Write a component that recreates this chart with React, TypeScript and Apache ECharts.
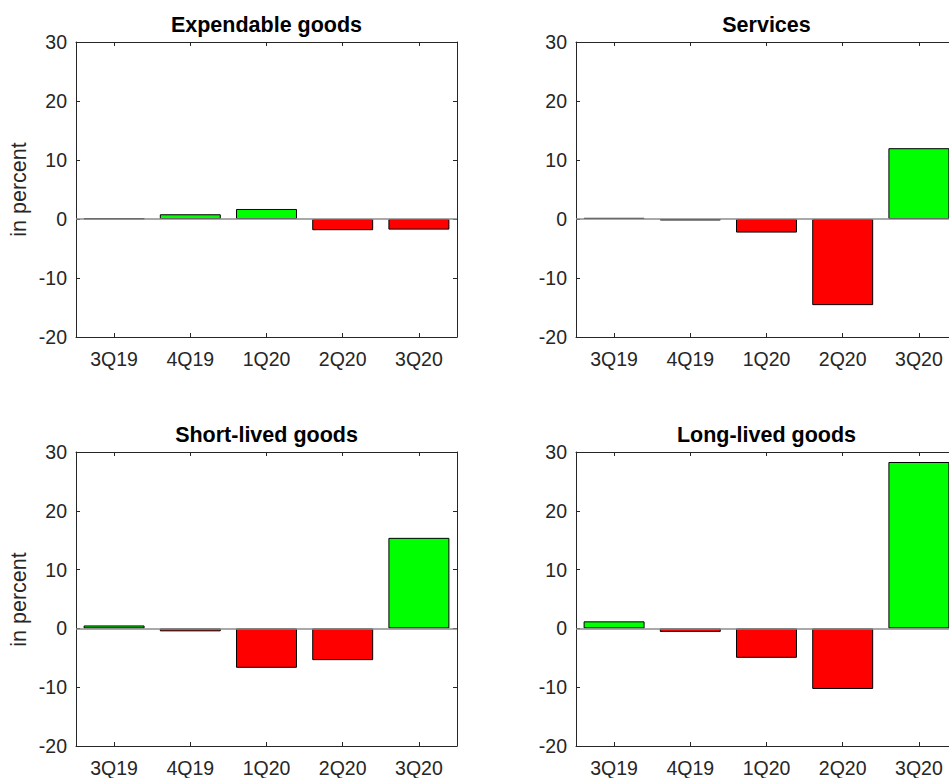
import React, { useEffect, useRef } from "react";
import * as echarts from "echarts";

const categories = ["3Q19", "4Q19", "1Q20", "2Q20", "3Q20"];
const panelTitles = ["Expendable goods", "Services", "Short-lived goods", "Long-lived goods"];
const expendable = [0.1, 0.8, 1.7, -1.9, -1.8];
const services = [0.2, -0.25, -2.3, -14.6, 12.0];
const shortLived = [0.5, -0.5, -6.7, -5.4, 15.4];
const longLived = [1.2, -0.6, -5.0, -10.3, 28.3];
const yTicks = { min: -20, max: 30, interval: 10 };
const yLabel = "in percent";

const FONT = "'Liberation Sans', Arial, Helvetica, sans-serif";
const AX = "#262626";

export default function App() {
  const ref = useRef<HTMLDivElement>(null);
  useEffect(() => {
    if (!ref.current) return;
    const chart = echarts.init(ref.current, undefined, { renderer: "svg" });
    const allData = [expendable, services, shortLived, longLived];
    const grids = [
      { left: 76, top: 42, width: 381, height: 295 },
      { left: 576, top: 42, width: 381, height: 295 },
      { left: 76, top: 452, width: 381, height: 295 },
      { left: 576, top: 452, width: 381, height: 295 },
    ];
    const xAxes: any[] = [];
    const yAxes: any[] = [];
    const series: any[] = [];
    const graphics: any[] = [];
    grids.forEach((g, i) => {
      const tick = { show: true, inside: true, length: 4, alignWithLabel: true, lineStyle: { color: AX, width: 1 } };
      xAxes.push({
        type: "category", gridIndex: i, data: categories, position: "bottom",
        axisLine: { show: true, onZero: false, lineStyle: { color: AX, width: 1 } },
        axisTick: tick,
        axisLabel: { color: AX, fontSize: 19.5, fontFamily: FONT, margin: 12 },
        splitLine: { show: false },
      });
      xAxes.push({
        type: "category", gridIndex: i, data: categories, position: "top",
        axisLine: { show: true, onZero: false, lineStyle: { color: AX, width: 1 } },
        axisTick: tick,
        axisLabel: { show: false },
        splitLine: { show: false },
      });
      const ytick = { show: true, inside: true, length: 4, lineStyle: { color: AX, width: 1 } };
      yAxes.push({
        type: "value", gridIndex: i, position: "left", min: yTicks.min, max: yTicks.max, interval: yTicks.interval,
        axisLine: { show: true, lineStyle: { color: AX, width: 1 } },
        axisTick: ytick,
        axisLabel: { color: AX, fontSize: 19.5, fontFamily: FONT, margin: 9 },
        splitLine: { show: false },
      });
      yAxes.push({
        type: "value", gridIndex: i, position: "right", min: yTicks.min, max: yTicks.max, interval: yTicks.interval,
        axisLine: { show: true, lineStyle: { color: AX, width: 1 } },
        axisTick: ytick,
        axisLabel: { show: false },
        splitLine: { show: false },
      });
      series.push({
        type: "line",
        xAxisIndex: i * 2,
        yAxisIndex: i * 2,
        data: [],
        z: 1,
        markLine: {
          silent: true,
          symbol: "none",
          label: { show: false },
          lineStyle: { color: "#8c8c8c", type: "solid", width: 1.5 },
          data: [{ yAxis: 0 }],
        },
      });
      series.push({
        type: "bar",
        xAxisIndex: i * 2,
        yAxisIndex: i * 2,
        barWidth: "80%",
        z: 2,
        data: allData[i].map((v) => ({
          value: v,
          itemStyle: { color: v >= 0 ? "#00ff00" : "#ff0000", borderColor: "#000", borderWidth: 1 },
        })),
      });
      graphics.push({
        type: "text",
        x: g.left + g.width / 2,
        y: g.top - 17,
        style: {
          text: panelTitles[i], fill: "#000", font: `bold 21.5px ${FONT}`,
          textAlign: "center", textVerticalAlign: "middle",
        },
      });
      if (i % 2 === 0) {
        graphics.push({
          type: "text",
          x: 19,
          y: g.top + g.height / 2,
          rotation: Math.PI / 2,
          style: {
            text: yLabel, fill: AX, font: `21.5px ${FONT}`,
            textAlign: "center", textVerticalAlign: "middle",
          },
        });
      }
    });
    chart.setOption({
      animation: false,
      backgroundColor: "#fff",
      grid: grids,
      xAxis: xAxes,
      yAxis: yAxes,
      series,
      graphic: graphics,
    });
    return () => chart.dispose();
  }, []);
  return (
    <div style={{ position: "absolute", left: 0, top: 0, width: 949, height: 778, overflow: "hidden" }}>
      <div ref={ref} style={{ width: 970, height: 778 }} />
    </div>
  );
}
